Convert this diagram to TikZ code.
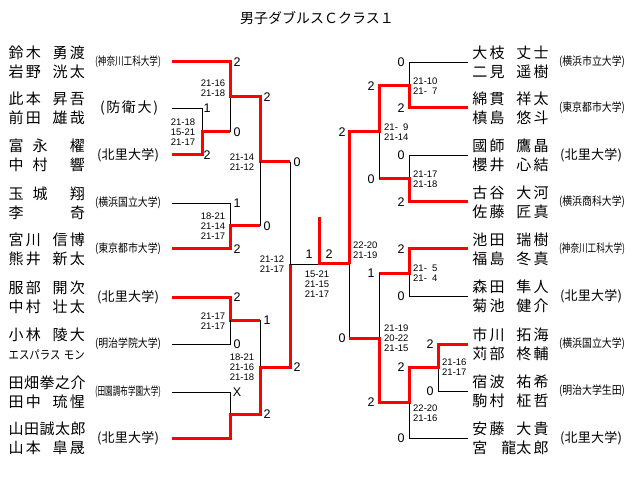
\documentclass[tikz,border=0pt]{standalone}
\usepackage{fontspec}
\usepackage{graphicx}
\setmainfont{Liberation Sans}
\newfontfamily\jp{Noto Sans CJK JP}
\newcommand\nmS[4]{\makebox[17.3pt][l]{#1}\makebox[26.7pt][l]{#2}\makebox[17.3pt][l]{#3}#4}
\newcommand\unl[1]{{\fontsize{11.5}{12}\selectfont\resizebox{66pt}{\height}{#1}}}
\newcommand\uns[1]{{\fontsize{13}{13}\selectfont\makebox[62pt][s]{#1}}}
\begin{document}
\begin{tikzpicture}[x=1pt,y=-1pt,
  win/.style={draw=red,line width=3pt},
  lose/.style={draw=black,line width=0.9pt},
  nm/.style={font=\jp\fontsize{15}{19}\selectfont,align=left,inner sep=0pt,anchor=west},
  un/.style={font=\jp,inner sep=0pt},
  sc/.style={font=\fontsize{12.5}{13}\selectfont,inner sep=0pt},
  gm/.style={font=\fontsize{9.5}{10}\selectfont,align=center,inner sep=0pt},
  gmr/.style={gm,align=left,anchor=west}]
\useasboundingbox (0,0) rectangle (640,489);
\fill[white] (0,0) rectangle (640,489);

\node[font=\jp\fontsize{14}{14}\selectfont,inner sep=0pt] (title) at (317,18) {男子ダブルスＣクラス１};

% ---------- left names ----------
\node[nm] (L1) at (8.5,62) {\nmS{鈴}{木}{勇}{渡}\\\nmS{岩}{野}{洸}{太}};
\node[nm] (L2) at (8.5,108) {\nmS{此}{本}{昇}{吾}\\\nmS{前}{田}{雄}{哉}};
\node[nm] (L3) at (8.5,155) {\makebox[24pt][l]{富}\makebox[37.3pt][l]{永}櫂\\\makebox[24pt][l]{中}\makebox[37.3pt][l]{村}響};
\node[nm] (L4) at (8.5,203) {\makebox[24pt][l]{玉}\makebox[37.3pt][l]{城}翔\\\makebox[61.3pt][l]{李}奇};
\node[nm] (L5) at (8.5,249) {\nmS{宮}{川}{信}{博}\\\nmS{熊}{井}{新}{太}};
\node[nm] (L6) at (8.5,297) {\nmS{服}{部}{開}{次}\\\nmS{中}{村}{壮}{太}};
\node[nm] (L7) at (8.5,344) {\nmS{小}{林}{陵}{大}\\{\fontsize{12}{12}\selectfont\resizebox{76pt}{\height}{エスパラス\hspace{4pt}モン}}};
\node[nm] (L8) at (8.5,392) {\makebox[77pt][s]{田\hfill 畑\hfill 拳\hfill 之\hfill 介}\\\nmS{田}{中}{琉}{惺}};
\node[nm] (L9) at (8.5,438) {\makebox[77pt][s]{山\hfill 田\hfill 誠\hfill 太\hfill 郎}\\\nmS{山}{本}{皐}{晟}};

% ---------- left universities ----------
\node[un] (U1) at (128,62) {\unl{(神奈川工科大学)}};
\node[un] (U2) at (129,108) {{\fontsize{14}{14}\selectfont\makebox[58pt][s]{(\hfill 防\hfill 衛\hfill 大\hfill )}}};
\node[un] (U3) at (128,155) {\uns{(\hfill 北\hfill 里\hfill 大\hfill 学\hfill )}};
\node[un] (U4) at (128,203) {\unl{(横浜国立大学)}};
\node[un] (U5) at (128,249) {\unl{(東京都市大学)}};
\node[un] (U6) at (128,297) {\uns{(\hfill 北\hfill 里\hfill 大\hfill 学\hfill )}};
\node[un] (U7) at (128,344) {\unl{(明治学院大学)}};
\node[un] (U8) at (128,392) {\unl{(田園調布学園大学)}};
\node[un] (U9) at (128,438) {\uns{(\hfill 北\hfill 里\hfill 大\hfill 学\hfill )}};

% ---------- right names ----------
\node[nm] (R1) at (472.2,62) {\nmS{大}{枝}{丈}{士}\\\nmS{二}{見}{遥}{樹}};
\node[nm] (R2) at (472.2,108) {\nmS{綿}{貫}{祥}{太}\\\nmS{槙}{島}{悠}{斗}};
\node[nm] (R3) at (472.2,155) {\nmS{國}{師}{鷹}{晶}\\\nmS{櫻}{井}{心}{結}};
\node[nm] (R4) at (472.2,202) {\nmS{古}{谷}{大}{河}\\\nmS{佐}{藤}{匠}{真}};
\node[nm] (R5) at (472.2,249) {\nmS{池}{田}{瑞}{樹}\\\nmS{福}{島}{冬}{真}};
\node[nm] (R6) at (472.2,296) {\nmS{森}{田}{隼}{人}\\\nmS{菊}{池}{健}{介}};
\node[nm] (R7) at (472.2,344) {\nmS{市}{川}{拓}{海}\\\nmS{苅}{部}{柊}{輔}};
\node[nm] (R8) at (472.2,391) {\nmS{宿}{波}{祐}{希}\\\nmS{駒}{村}{柾}{哲}};
\node[nm] (R9) at (472.2,438) {\nmS{安}{藤}{大}{貴}\\\makebox[29pt][l]{宮}\makebox[15pt][l]{龍}\makebox[17.3pt][l]{太}郎};

% ---------- right universities ----------
\node[un] (V1) at (592,62) {\unl{(横浜市立大学)}};
\node[un] (V2) at (592,108) {\unl{(東京都市大学)}};
\node[un] (V3) at (591,155) {\uns{(\hfill 北\hfill 里\hfill 大\hfill 学\hfill )}};
\node[un] (V4) at (592,202) {\unl{(横浜商科大学)}};
\node[un] (V5) at (592,249) {\unl{(神奈川工科大学)}};
\node[un] (V6) at (591,296) {\uns{(\hfill 北\hfill 里\hfill 大\hfill 学\hfill )}};
\node[un] (V7) at (592,344) {\unl{(横浜国立大学)}};
\node[un] (V8) at (592,391) {\unl{(明治大学生田)}};
\node[un] (V9) at (591,438) {\uns{(\hfill 北\hfill 里\hfill 大\hfill 学\hfill )}};

% ---------- entry line ends ----------
\foreach \i/\y in {1/62,2/108,3/155,4/203,5/249,6/297,7/344,8/392,9/438}
  \coordinate (l\i) at (172,\y);
\foreach \i/\y in {1/62,2/108,3/155,4/202,5/249,6/296,7/344,8/391,9/438}
  \coordinate (r\i) at (468,\y);

% junction coordinates
\coordinate (pa) at (202,132);
\coordinate (qa) at (230,97);
\coordinate (qb) at (230,226);
\coordinate (qc) at (230,320);
\coordinate (qd) at (230,414);
\coordinate (ha) at (260,162);
\coordinate (hb) at (260,367);
\coordinate (fl) at (290,264);
\coordinate (fc) at (319,264);
\coordinate (ch) at (319,217);
\coordinate (fr) at (349,264);
\coordinate (ka) at (379,132);
\coordinate (kb) at (379,338);
\coordinate (ja) at (409,86);
\coordinate (jb) at (409,179);
\coordinate (jc) at (409,273);
\coordinate (jd) at (409,402);
\coordinate (pb) at (438,367);

% ---------- left bracket ----------
\draw[lose] (l2) -| (pa);
\draw[lose] (qa) -- (pa -| qa);
\draw[win] (l3) -| (pa) -- (pa -| qa);
\draw[win] (l1) -| (qa) -- (qa -| ha) -- (ha) -- (ha -| fl);
\draw[lose] (l4) -| (qb);
\draw[win] (l5) -| (qb) -- (qb -| ha);
\draw[lose] (ha) -- (qb -| ha);
\draw[lose] (ha -| fl) -- (fl);
\draw[win] (l6) -| (qc) -- (qc -| hb);
\draw[lose] (l7) -| (qc);
\draw[lose] (qc -| hb) -- (hb);
\draw[lose] (l8) -| (qd);
\draw[win] (l9) -| (qd) -- (qd -| hb) -- (hb) -- (hb -| fl) -- (fl);
% final
\draw[lose] (fl) -- (fc);
\draw[win] (fr) -- (fc) -- (ch);
% ---------- right bracket ----------
\draw[lose] (r1) -| (ja);
\draw[win] (r2) -| (ja) -- (ja -| ka) -- (ka) -- (ka -| fr) -- (fr);
\draw[lose] (r3) -| (jb);
\draw[win] (r4) -| (jb) -- (jb -| ka);
\draw[lose] (ka) -- (jb -| ka);
\draw[lose] (fr) -- (kb -| fr);
\draw[win] (r5) -| (jc) -- (jc -| kb);
\draw[lose] (r6) -| (jc);
\draw[lose] (jc -| kb) -- (kb);
\draw[lose] (r8) -| (pb);
\draw[win] (kb -| fr) -- (kb) -- (jd -| kb) -- (jd) -- (pb -| jd) -- (pb) |- (r7);
\draw[lose] (r9) -| (jd);

% ---------- match scores (games won) ----------
\node[sc] (a1) at (237,62) {2};
\node[sc] (a2) at (207,108) {1};
\node[sc] (a3) at (207,155) {2};
\node[sc] (a4) at (237,132) {0};
\node[sc] (a5) at (267,97) {2};
\node[sc] (a6) at (237,203) {1};
\node[sc] (a7) at (237,249) {2};
\node[sc] (a8) at (267,226) {0};
\node[sc] (a9) at (297,162) {0};
\node[sc] (a10) at (237,297) {2};
\node[sc] (a11) at (237,344) {0};
\node[sc] (a12) at (267,320) {1};
\node[sc] (a13) at (237,392) {X};
\node[sc] (a14) at (267,414) {2};
\node[sc] (a15) at (297,367) {2};
\node[sc] (a16) at (309,254) {1};
\node[sc] (a17) at (329,254) {2};
\node[sc] (b1) at (401,62) {0};
\node[sc] (b2) at (401,108) {2};
\node[sc] (b3) at (371,86) {2};
\node[sc] (b4) at (401,155) {0};
\node[sc] (b5) at (401,202) {2};
\node[sc] (b6) at (371,179) {0};
\node[sc] (b7) at (342,132) {2};
\node[sc] (b8) at (342,338) {0};
\node[sc] (b9) at (401,249) {2};
\node[sc] (b10) at (371,273) {1};
\node[sc] (b11) at (401,296) {0};
\node[sc] (b12) at (401,367) {2};
\node[sc] (b13) at (371,402) {2};
\node[sc] (b14) at (430,344) {2};
\node[sc] (b15) at (430,391) {0};
\node[sc] (b16) at (401,438) {0};

% ---------- game scores ----------
\node[gm] (g1) at (213,88) {21-16\\21-18};
\node[gm] (g2) at (183,132) {21-18\\15-21\\21-17};
\node[gm] (g3) at (242,162) {21-14\\21-12};
\node[gm] (g4) at (213,226) {18-21\\21-14\\21-17};
\node[gm] (g5) at (272,264) {21-12\\21-17};
\node[gm] (g6) at (213,321) {21-17\\21-17};
\node[gm] (g7) at (242,367) {18-21\\21-16\\21-18};
\node[gm] (g8) at (317,284) {15-21\\21-15\\21-17};
\node[gmr] (h1) at (353,250) {22-20\\21-19};
\node[gmr] (h2) at (413,86) {21-10\\21-\phantom{1}7};
\node[gmr] (h3) at (384,132) {21-\phantom{1}9\\21-14};
\node[gmr] (h4) at (413,179) {21-17\\21-18};
\node[gmr] (h5) at (413,273) {21-\phantom{1}5\\21-\phantom{1}4};
\node[gmr] (h6) at (384,338) {21-19\\20-22\\21-15};
\node[gmr] (h7) at (413,413) {22-20\\21-16};
\node[gmr] (h8) at (442,367) {21-16\\21-17};
\end{tikzpicture}
\end{document}
